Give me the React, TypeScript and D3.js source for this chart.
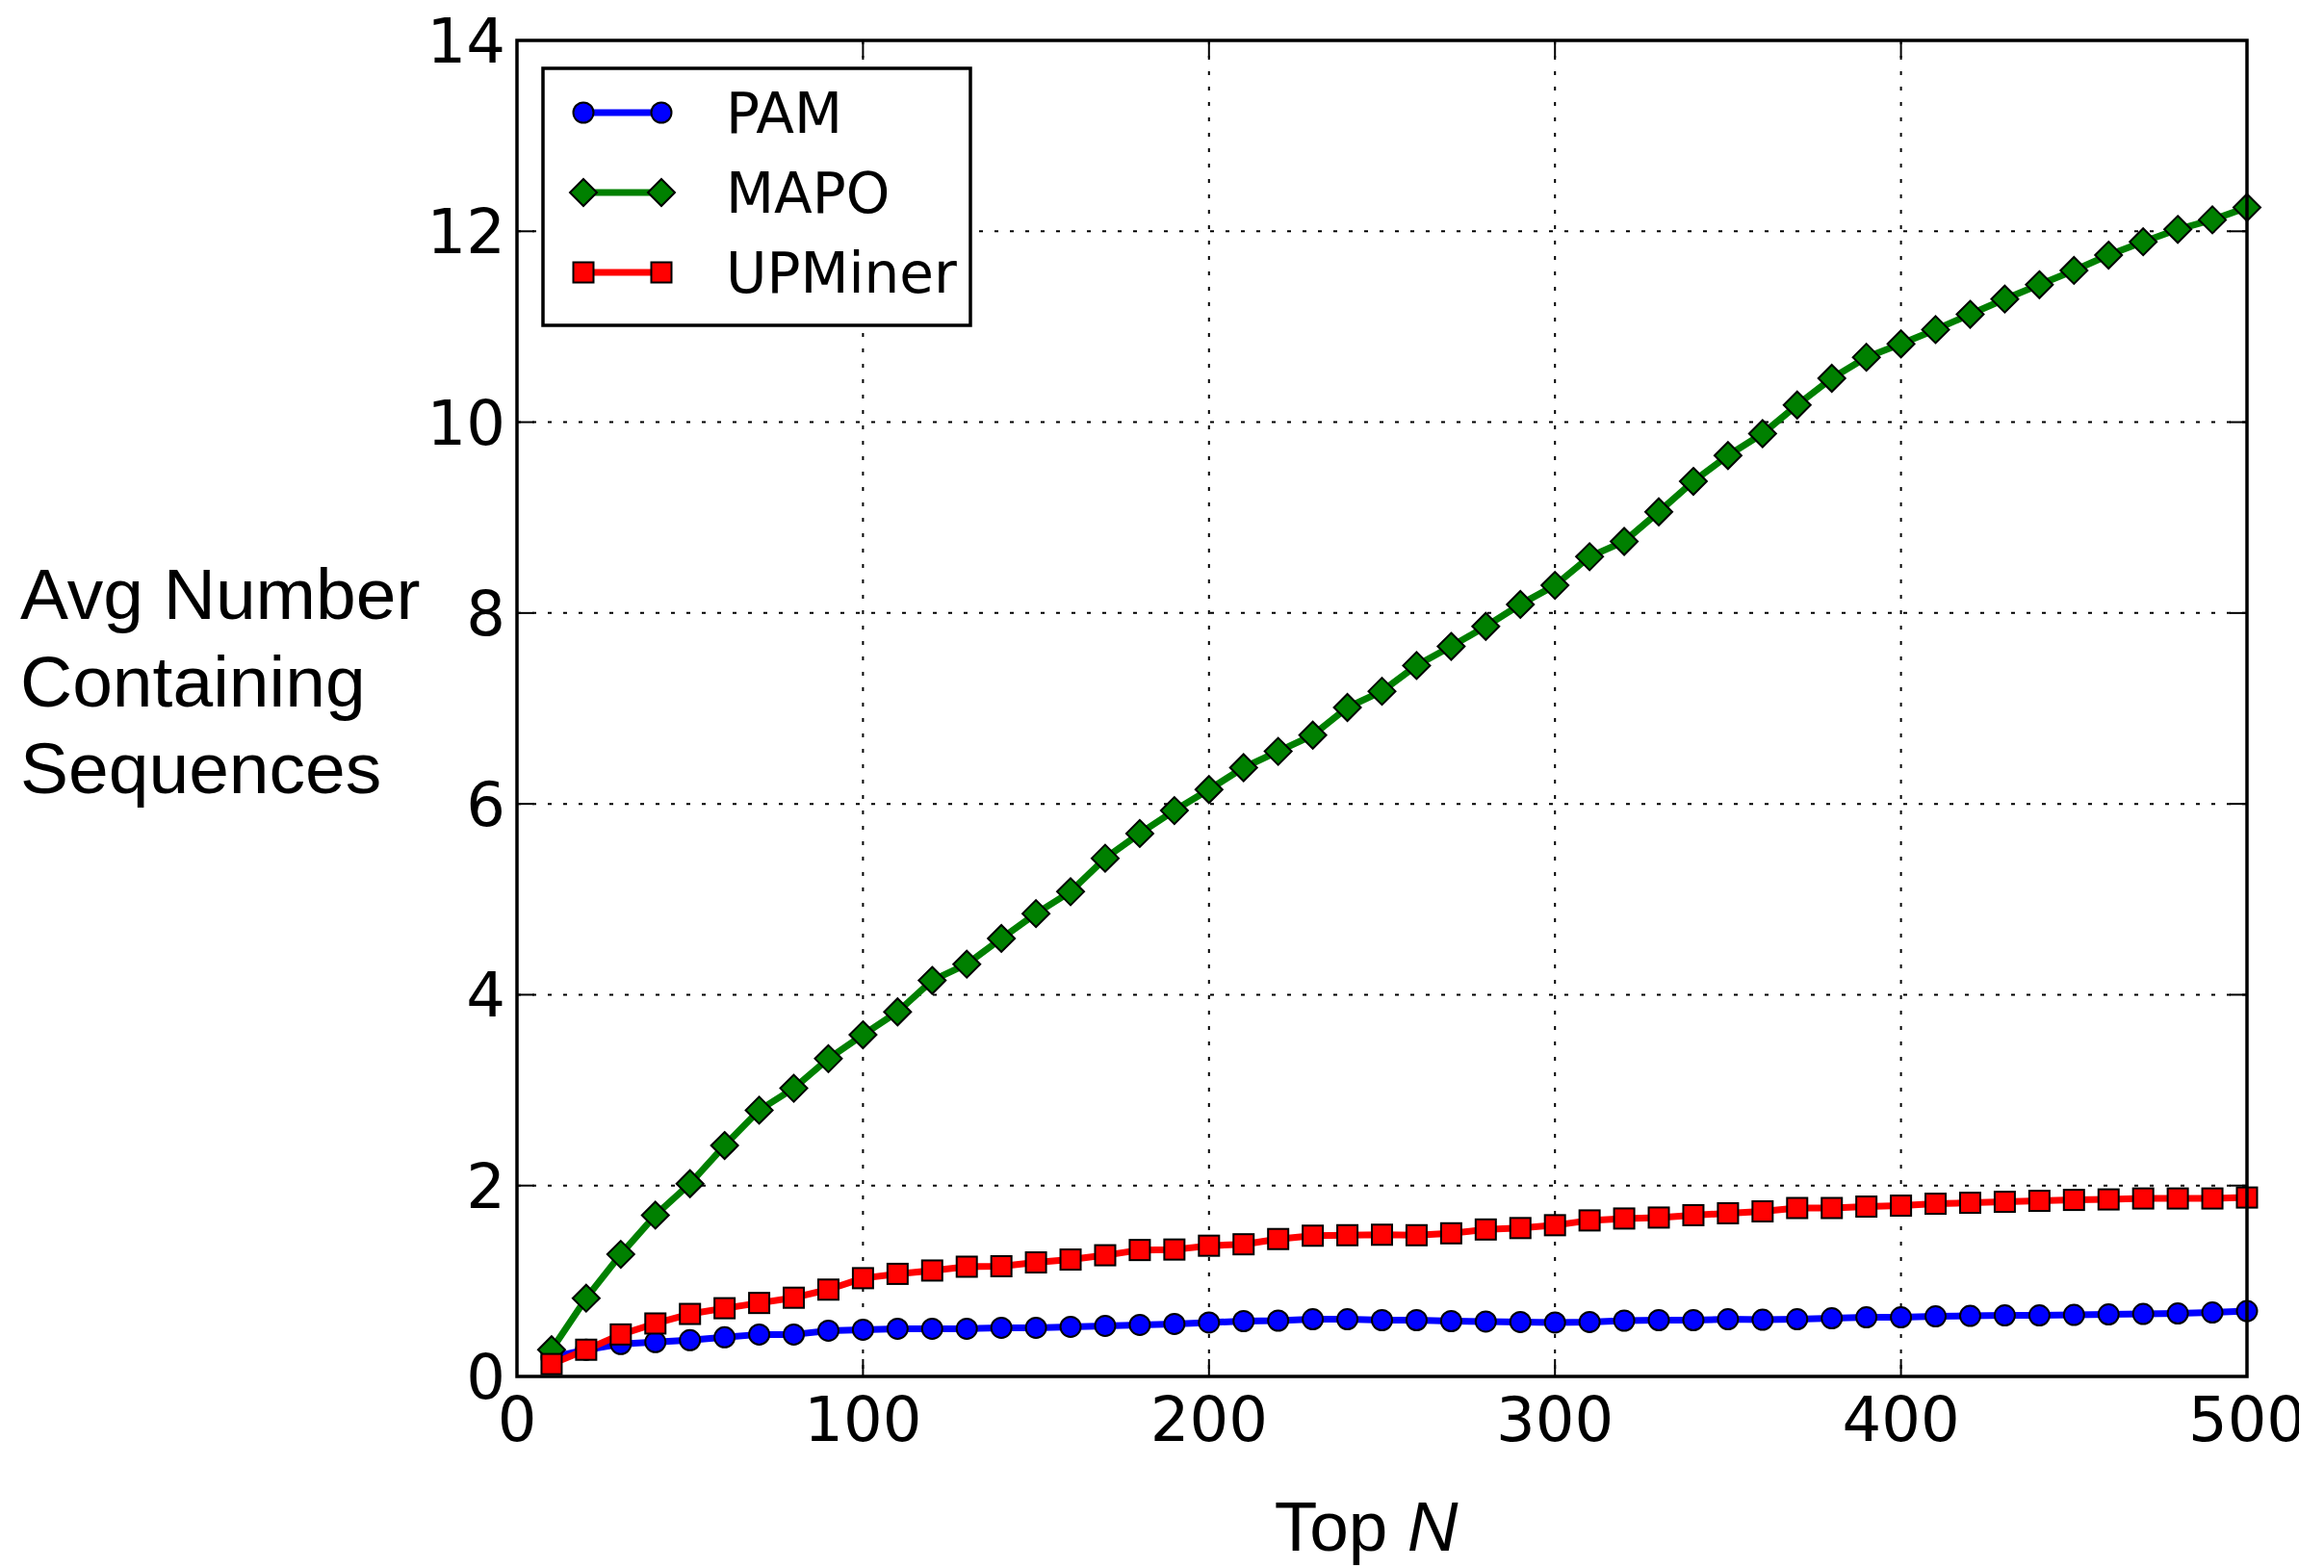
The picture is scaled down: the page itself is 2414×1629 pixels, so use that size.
import React from "react";
import * as d3 from "d3";

const topN = [10, 20, 30, 40, 50, 60, 70, 80, 90, 100, 110, 120, 130, 140, 150, 160, 170, 180, 190, 200, 210, 220, 230, 240, 250, 260, 270, 280, 290, 300, 310, 320, 330, 340, 350, 360, 370, 380, 390, 400, 410, 420, 430, 440, 450, 460, 470, 480, 490, 500];

const pam = [0.20, 0.28, 0.34, 0.36, 0.38, 0.41, 0.44, 0.44, 0.48, 0.49, 0.50, 0.50, 0.50, 0.51, 0.51, 0.52, 0.53, 0.54, 0.55, 0.565, 0.58, 0.585, 0.60, 0.60, 0.59, 0.59, 0.58, 0.575, 0.57, 0.565, 0.57, 0.585, 0.59, 0.59, 0.60, 0.595, 0.60, 0.61, 0.62, 0.62, 0.63, 0.635, 0.64, 0.64, 0.645, 0.65, 0.655, 0.66, 0.67, 0.685];

const mapo = [0.28, 0.82, 1.28, 1.69, 2.02, 2.42, 2.79, 3.02, 3.33, 3.58, 3.82, 4.15, 4.32, 4.59, 4.85, 5.08, 5.43, 5.69, 5.93, 6.15, 6.38, 6.55, 6.72, 7.01, 7.18, 7.45, 7.65, 7.86, 8.09, 8.29, 8.59, 8.75, 9.06, 9.38, 9.65, 9.88, 10.18, 10.46, 10.68, 10.82, 10.97, 11.13, 11.29, 11.44, 11.59, 11.75, 11.89, 12.02, 12.12, 12.25];

const upminer = [0.13, 0.28, 0.44, 0.555, 0.655, 0.715, 0.77, 0.825, 0.91, 1.03, 1.075, 1.11, 1.15, 1.155, 1.195, 1.225, 1.27, 1.325, 1.33, 1.37, 1.385, 1.44, 1.475, 1.48, 1.485, 1.48, 1.50, 1.54, 1.555, 1.585, 1.635, 1.655, 1.665, 1.69, 1.71, 1.73, 1.765, 1.765, 1.78, 1.79, 1.81, 1.82, 1.83, 1.84, 1.85, 1.855, 1.865, 1.865, 1.865, 1.875];

const xTicks = [0, 100, 200, 300, 400, 500];
const yTicks = [0, 2, 4, 6, 8, 10, 12, 14];
const yLabelLines = ["Avg Number", "Containing", "Sequences"];

type Series = { name: string; values: number[]; color: string; marker: "circle" | "diamond" | "square" };
const seriesList: Series[] = [
  { name: "PAM", values: pam, color: "#0000ff", marker: "circle" },
  { name: "MAPO", values: mapo, color: "#008000", marker: "diamond" },
  { name: "UPMiner", values: upminer, color: "#ff0000", marker: "square" },
];

const W = 2414, H = 1629;
const L = 537, R = 2334, T = 42, B = 1430;

function Marker({ kind, x, y, color }: { kind: string; x: number; y: number; color: string }) {
  const sw = 2;
  if (kind === "circle") return <circle cx={x} cy={y} r={10.5} fill={color} stroke="#000" strokeWidth={sw} />;
  if (kind === "square") return <rect x={x - 10.5} y={y - 10.5} width={21} height={21} fill={color} stroke="#000" strokeWidth={sw} />;
  const d = 14;
  return <path d={`M${x},${y - d}L${x + d},${y}L${x},${y + d}L${x - d},${y}Z`} fill={color} stroke="#000" strokeWidth={sw} />;
}

export default function App() {
  const x = d3.scaleLinear().domain([0, 500]).range([L, R]);
  const y = d3.scaleLinear().domain([0, 14]).range([B, T]);
  const line = d3.line<number>().x((_, i) => x(topN[i])).y((v) => y(v));
  const tickFont = "'DejaVu Sans', sans-serif";
  const labelFont = "'Liberation Sans', Arial, sans-serif";

  return (
    <svg width={W} height={H} style={{ position: "absolute", left: 0, top: 0, background: "#fff" }}>
      <defs>
        <clipPath id="pageClip">
          <rect x={0} y={0} width={2388} height={H} />
        </clipPath>
      </defs>
      <rect x={0} y={0} width={W} height={H} fill="#fff" />
      {/* grid */}
      <g stroke="#000" strokeWidth={2} strokeDasharray="4,12">
        {xTicks.map((t) => (
          <line key={"gx" + t} x1={x(t)} x2={x(t)} y1={T} y2={B} />
        ))}
        {yTicks.map((t) => (
          <line key={"gy" + t} x1={L} x2={R} y1={y(t)} y2={y(t)} />
        ))}
      </g>
      {/* series */}
      {seriesList.map((s) => (
        <g key={s.name}>
          <path d={line(s.values) || ""} fill="none" stroke={s.color} strokeWidth={7} strokeLinejoin="round" />
          {s.values.map((v, i) => (
            <Marker key={i} kind={s.marker} x={x(topN[i])} y={y(v)} color={s.color} />
          ))}
        </g>
      ))}
      {/* ticks */}
      <g stroke="#000" strokeWidth={2}>
        {xTicks.map((t) => (
          <g key={"tx" + t}>
            <line x1={x(t)} x2={x(t)} y1={B} y2={B - 18} />
            <line x1={x(t)} x2={x(t)} y1={T} y2={T + 18} />
          </g>
        ))}
        {yTicks.map((t) => (
          <g key={"ty" + t}>
            <line x1={L} x2={L + 18} y1={y(t)} y2={y(t)} />
            <line x1={R} x2={R - 18} y1={y(t)} y2={y(t)} />
          </g>
        ))}
      </g>
      {/* frame */}
      <rect x={L} y={T} width={R - L} height={B - T} fill="none" stroke="#000" strokeWidth={3.5} />
      {/* tick labels */}
      <g fontFamily={tickFont} fontSize={64} fill="#000" clipPath="url(#pageClip)">
        {xTicks.map((t) => (
          <text key={"lx" + t} x={x(t)} y={1497} textAnchor="middle">{t}</text>
        ))}
        {yTicks.map((t) => (
          <text key={"ly" + t} x={L - 12} y={y(t)} dy="0.36em" textAnchor="end">{t}</text>
        ))}
      </g>
      {/* axis labels */}
      <g fontFamily={labelFont} fontSize={75} fill="#000">
        {yLabelLines.map((s, i) => (
          <text key={s} x={21} y={643 + i * 90.5}>{s}</text>
        ))}
        <text x={1419} y={1611} textAnchor="middle" fontSize={73}>
          Top <tspan fontStyle="italic">N</tspan>
        </text>
      </g>
      {/* legend */}
      <g>
        <rect x={564} y={71} width={444} height={267} fill="#fff" stroke="#000" strokeWidth={3.5} />
        {seriesList.map((s, i) => {
          const ly = 117 + i * 83;
          return (
            <g key={"lg" + s.name}>
              <line x1={606} x2={687} y1={ly} y2={ly} stroke={s.color} strokeWidth={7} />
              <Marker kind={s.marker} x={606} y={ly} color={s.color} />
              <Marker kind={s.marker} x={687} y={ly} color={s.color} />
              <text x={754} y={ly} dy="0.36em" fontFamily={tickFont} fontSize={58} fill="#000">{s.name}</text>
            </g>
          );
        })}
      </g>
    </svg>
  );
}
